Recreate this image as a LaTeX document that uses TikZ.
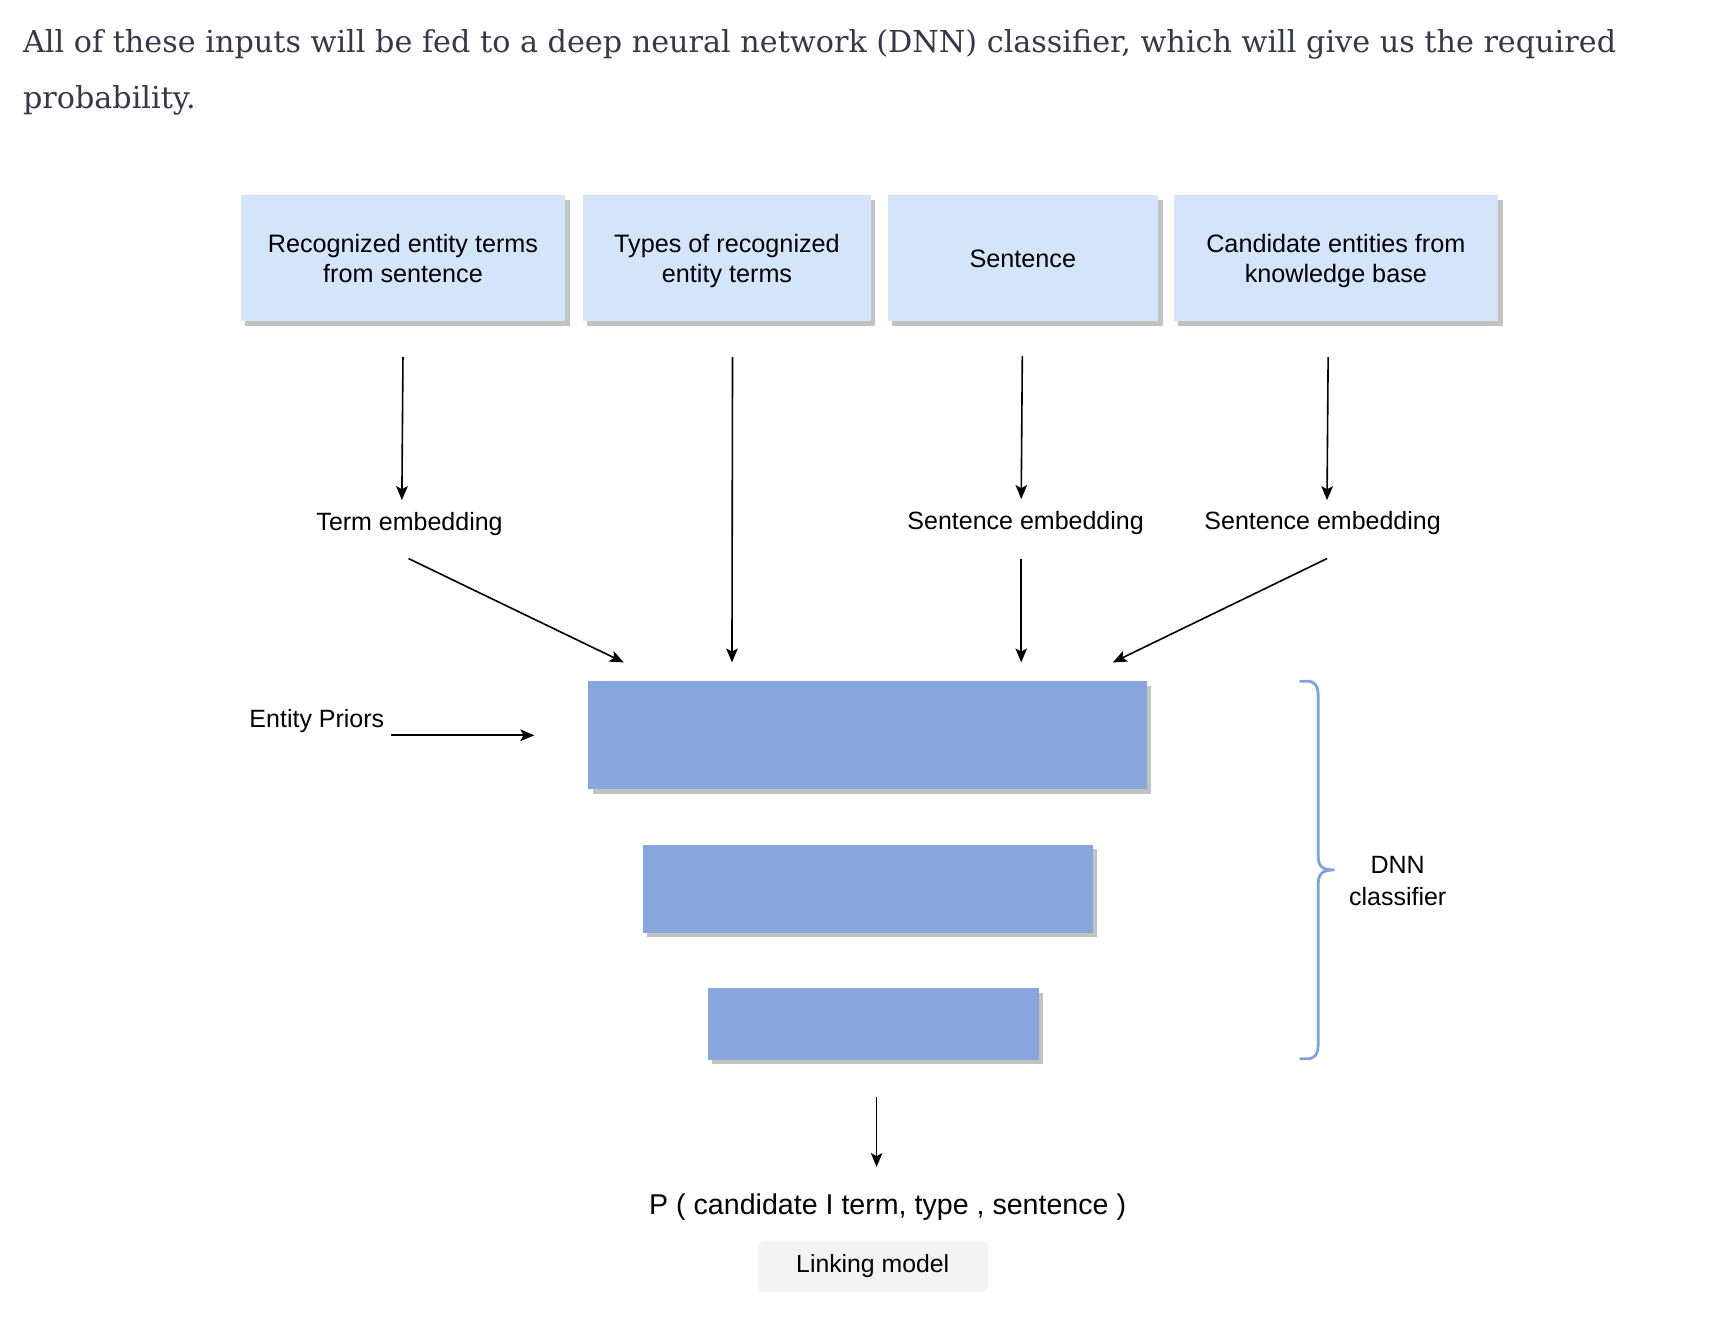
\documentclass[tikz,border=0pt]{standalone}
\usepackage{fontspec}
\setmainfont{Liberation Sans}
\newfontfamily\headfont{DejaVu Serif}
\usetikzlibrary{arrows.meta,shadows}
\definecolor{topfill}{HTML}{D4E4FB}
\definecolor{shade}{HTML}{C2C2C2}
\definecolor{layer}{HTML}{87A6DC}
\definecolor{bracec}{HTML}{7EA2DE}
\definecolor{headc}{HTML}{37374A}
\definecolor{tagfill}{HTML}{F3F3F3}
\def\u{0.552pt}
\newlength\hdw
\newcommand\nodepth[1]{\raisebox{0pt}[\height][0pt]{#1}}
\begin{document}
\settowidth\hdw{\headfont\fontsize{10pt}{12pt}\selectfont All of these inputs will be fed to a deep neural network (DNN) classifier, which will give us the required}%
\pgfmathsetmacro\hs{10*796.5/\hdw}%
\begin{tikzpicture}[x=0.552pt,y=-0.552pt,
  arr/.style={line width=0.8pt,-{Stealth[length=7pt,width=5.8pt,inset=1.6pt]}},
  lbl/.style={font=\fontsize{12.5}{15}\selectfont, inner sep=0pt, align=center},
  inbox/.style={fill=topfill, draw=none, align=center, inner sep=0pt,
    font=\fontsize{12.6}{15}\selectfont,
    drop shadow={shadow xshift=2.2pt, shadow yshift=-2.2pt, fill=shade, opacity=1}},
  layerbox/.style={fill=layer, draw=none, inner sep=0pt,
    drop shadow={shadow xshift=2.2pt, shadow yshift=-2.2pt, fill=shade, opacity=1}},
  bracestyle/.style={draw=bracec, line width=1.4pt, line cap=round, line join=round},
  tag/.style={fill=tagfill, rounded corners=3pt, inner sep=0pt,
    font=\fontsize{12.4}{15}\selectfont}
]
\useasboundingbox (0,0) rectangle (1567,1194);
% heading
\node[anchor=base west, inner sep=0pt, text=headc] (h1) at (20.5,47.5)
  {\headfont\fontsize{\hs pt}{\hs pt}\selectfont All of these inputs will be fed to a deep neural network (DNN) classifier, which will give us the required};
\node[anchor=base west, inner sep=0pt, text=headc] (h2) at (20.5,98)
  {\headfont\fontsize{\hs pt}{\hs pt}\selectfont probability.};
% input boxes
\node[inbox, minimum width=294*\u, minimum height=114*\u] (b1) at (365,234)
  {Recognized entity terms\\\nodepth{from sentence}};
\node[inbox, minimum width=261*\u, minimum height=114*\u] (b2) at (658.5,234)
  {Types of recognized\\\nodepth{entity terms}};
\node[inbox, minimum width=245*\u, minimum height=114*\u] (b3) at (926.5,234)
  {Sentence};
\node[inbox, minimum width=294*\u, minimum height=114*\u] (b4) at (1210,234)
  {Candidate entities from\\\nodepth{knowledge base}};
% embedding labels
\node[lbl] (te) at (371,475) {Term embedding};
\node[lbl] (se1) at (929,474) {Sentence embedding};
\node[lbl] (se2) at (1198,474) {Sentence embedding};
% layers
\node[layerbox, minimum width=506*\u, minimum height=98*\u] (l1) at (786,666) {};
\node[layerbox, minimum width=408*\u, minimum height=80*\u] (l2) at (786,805) {};
\node[layerbox, minimum width=300*\u, minimum height=65*\u] (l3) at (791,927.5) {};
% entity priors
\node[lbl] (ep) at (287,653) {Entity Priors};
% DNN label
\node[lbl, font=\fontsize{12.5}{16}\selectfont] (dnn) at (1266,798) {DNN\\classifier};
% output
\node[lbl, font=\fontsize{14.3}{17}\selectfont] (pout) at (804,1093) {P ( candidate I term, type , sentence )};
\node[tag, minimum width=209*\u, minimum height=46*\u] (lm) at (790.5,1147) {Linking model};
% connectors
\draw[arr] (b1.south) ++(0,32) coordinate (a1s) -- (364,453) coordinate (a1e);
\draw[arr] (b2.south) ++(5,32) coordinate (a3s) -- (663,600) coordinate (a3e);
\draw[arr] (b3.south) ++(-0.5,31) coordinate (a4s) -- (925,452) coordinate (a4e);
\draw[arr] (b4.south) ++(-7,32) coordinate (a6s) -- (1202,453) coordinate (a6e);
\draw[arr] (te.south) ++(-1,20) coordinate (a2s) -- (565,600) coordinate (a2e);
\draw[arr] (se1.south) ++(-4,21) coordinate (a5s) -- (925,600) coordinate (a5e);
\draw[arr] (se2.south) ++(4,21) coordinate (a7s) -- (1008,600) coordinate (a7e);
\draw[arr] (ep.east) ++(6,13) coordinate (eps) -- (484,666) coordinate (epe);
\draw[arr] (l3.south) ++(3,33) coordinate (os) -- (794,1057) coordinate (oe);
% brace
\draw[bracestyle] (1178,617) -- (1184,617) .. controls (1191,617) and (1194,621) .. (1194,631)
  -- (1194,775) .. controls (1194,784) and (1197,788) .. (1208,788)
  .. controls (1197,788) and (1194,792) .. (1194,802)
  -- (1194,945) .. controls (1194,955) and (1191,959) .. (1184,959) -- (1178,959);
\end{tikzpicture}
\end{document}
